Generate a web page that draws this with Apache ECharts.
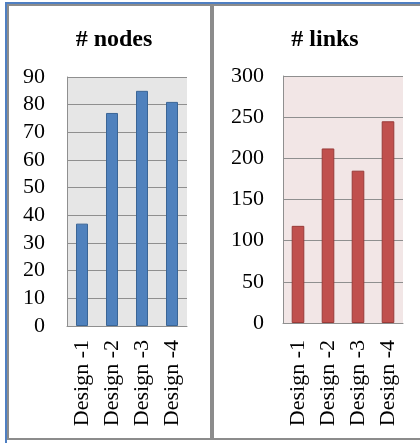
<!DOCTYPE html>
<html>
<head>
<meta charset="utf-8">
<script src="https://cdn.jsdelivr.net/npm/echarts@6/dist/echarts.min.js"></script>
<style>
  html, body { margin: 0; padding: 0; background: #ffffff; }
  #chart { width: 420px; height: 443px; }
</style>
</head>
<body>
<div id="chart"></div>
<script>
// Network size of each design: node count and link count
const categories = ['Design -1', 'Design -2', 'Design -3', 'Design -4'];
const nodeCounts = [37, 77, 85, 81];
const linkCounts = [118, 212, 185, 245];
const nodeTicks = { min: 0, max: 90, interval: 10 };
const linkTicks = { min: 0, max: 300, interval: 50 };

const serif = '"Liberation Serif", "Times New Roman", serif';
const gridLineColor = '#8f8f8f';

const chart = echarts.init(document.getElementById('chart'), null, { renderer: 'canvas' });

function catAxis(gridIndex, margin) {
  return {
    type: 'category',
    gridIndex: gridIndex,
    data: categories,
    axisLine: { lineStyle: { color: gridLineColor, width: 1 } },
    axisTick: { show: false },
    axisLabel: {
      rotate: 90,
      margin: margin,
      color: '#000',
      fontFamily: serif,
      fontSize: 22,
      interval: 0
    }
  };
}

function valAxis(gridIndex, ticks, margin) {
  return {
    type: 'value',
    gridIndex: gridIndex,
    min: ticks.min,
    max: ticks.max,
    interval: ticks.interval,
    axisLine: { show: true, lineStyle: { color: gridLineColor, width: 1 } },
    axisTick: { show: false },
    splitLine: { show: true, lineStyle: { color: gridLineColor, width: 1 } },
    axisLabel: {
      margin: margin,
      color: '#000',
      fontFamily: serif,
      fontSize: 22
    }
  };
}

chart.setOption({
  animation: false,
  backgroundColor: '#ffffff',
  title: [
    {
      text: '# nodes',
      left: 109,
      top: 23,
      textAlign: 'center',
      textStyle: { fontFamily: serif, fontWeight: 'bold', fontSize: 24, color: '#000' }
    },
    {
      text: '# links',
      left: 320,
      top: 23,
      textAlign: 'center',
      textStyle: { fontFamily: serif, fontWeight: 'bold', fontSize: 24, color: '#000' }
    }
  ],
  grid: [
    { left: 67, right: 233, top: 77, bottom: 117, show: true, backgroundColor: '#e6e6e6', borderWidth: 0 },
    { left: 283, right: 17, top: 76, bottom: 120, show: true, backgroundColor: '#f2e6e6', borderWidth: 0 }
  ],
  xAxis: [catAxis(0, 14), catAxis(1, 17)],
  yAxis: [valAxis(0, nodeTicks, 22), valAxis(1, linkTicks, 19)],
  series: [
    {
      type: 'bar',
      xAxisIndex: 0,
      yAxisIndex: 0,
      data: nodeCounts,
      barWidth: '40%',
      itemStyle: { color: '#4f81bd', borderColor: '#3a6596', borderWidth: 1 }
    },
    {
      type: 'bar',
      xAxisIndex: 1,
      yAxisIndex: 1,
      data: linkCounts,
      barWidth: '42%',
      itemStyle: { color: '#c0504d', borderColor: '#983a38', borderWidth: 1 }
    }
  ],
  graphic: [
    // panel frames
    { type: 'rect', shape: { x: 8, y: 5, width: 203, height: 434 }, style: { fill: null, stroke: '#8c8c8c', lineWidth: 2 }, z: 10 },
    { type: 'rect', shape: { x: 213, y: 5, width: 210, height: 434 }, style: { fill: null, stroke: '#8c8c8c', lineWidth: 2 }, z: 10 },
    // outer accent edges
    { type: 'rect', shape: { x: 5, y: 2, width: 415, height: 2 }, style: { fill: '#4f7fc2' }, z: 11 },
    { type: 'rect', shape: { x: 5, y: 2, width: 2, height: 441 }, style: { fill: '#4f7fc2' }, z: 11 }
  ]
});
</script>
</body>
</html>
